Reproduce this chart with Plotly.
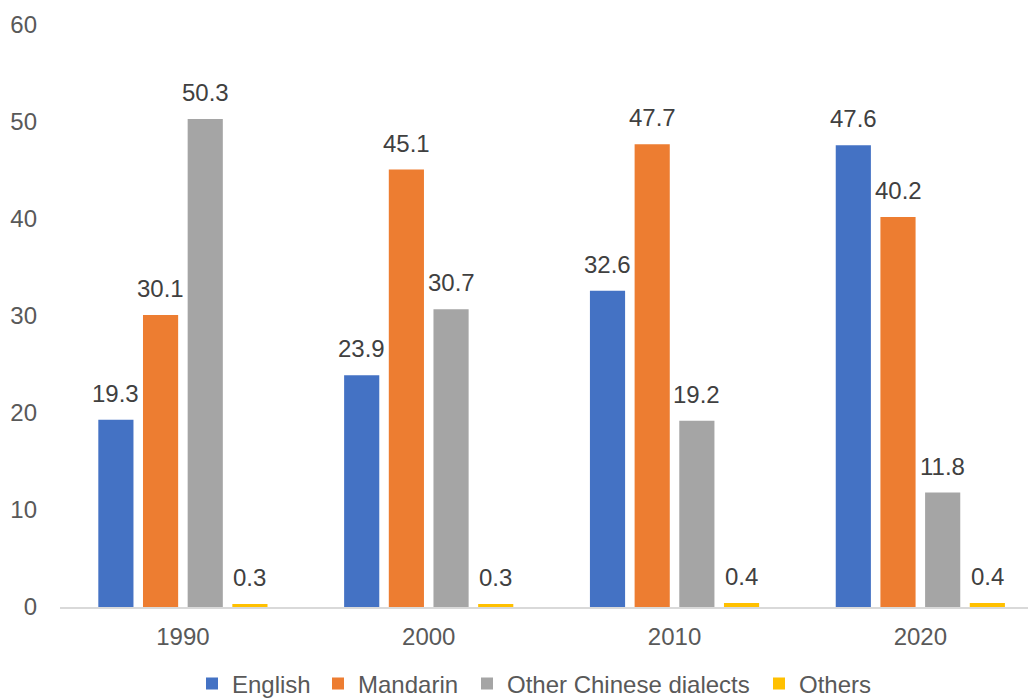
import plotly.graph_objects as go

years = ["1990", "2000", "2010", "2020"]
english = [19.3, 23.9, 32.6, 47.6]
mandarin = [30.1, 45.1, 47.7, 40.2]
other_dialects = [50.3, 30.7, 19.2, 11.8]
others = [0.3, 0.3, 0.4, 0.4]
series_names = ["English", "Mandarin", "Other Chinese dialects", "Others"]
series_values = [english, mandarin, other_dialects, others]
colors = ["#4472C4", "#ED7D31", "#A5A5A5", "#FFC000"]
legend_widths = [81, 104, 247, 71]

FONT = "Liberation Sans, Arial, sans-serif"
BARGAP = 0.273
BARGROUPGAP = 0.213

fig = go.Figure()
for name, vals, col, lw in zip(series_names, series_values, colors, legend_widths):
    fig.add_trace(go.Bar(x=years, y=vals, name=name, legendwidth=lw,
                         marker=dict(color=col, line=dict(width=0))))

n = len(series_names)
slot = (1 - BARGAP) / n
annotations = []
for j, vals in enumerate(series_values):
    for i, v in enumerate(vals):
        annotations.append(dict(
            x=i + (j - (n - 1) / 2) * slot, y=v, xref="x", yref="y",
            text=f"{v}", showarrow=False, yanchor="bottom", yshift=11,
            font=dict(family=FONT, size=24, color="#404040")))

fig.update_layout(
    width=1028, height=698,
    margin=dict(l=60, r=0, t=25, b=91, autoexpand=False),
    paper_bgcolor="white", plot_bgcolor="white",
    barmode="group", bargap=BARGAP, bargroupgap=BARGROUPGAP,
    font=dict(family=FONT, size=24, color="#595959"),
    showlegend=True,
    legend=dict(orientation="h", xref="container", x=192 / 1028, xanchor="left",
                yref="container", y=1 - 684 / 698, yanchor="middle",
                font=dict(family=FONT, size=24, color="#595959"), itemwidth=30,
                bgcolor="rgba(0,0,0,0)"),
    annotations=annotations,
    xaxis=dict(type="category", range=[-0.5, 3.438], showline=True, linecolor="#D9D9D9",
               linewidth=1.5, showgrid=False, ticks="", ticklabelstandoff=7,
               tickfont=dict(size=24, color="#595959")),
    yaxis=dict(range=[0, 60], dtick=10, showgrid=False, zeroline=False, showline=False,
               ticks="", ticklabelstandoff=22, tickfont=dict(size=24, color="#595959")),
)

fig.write_html("out.html")
